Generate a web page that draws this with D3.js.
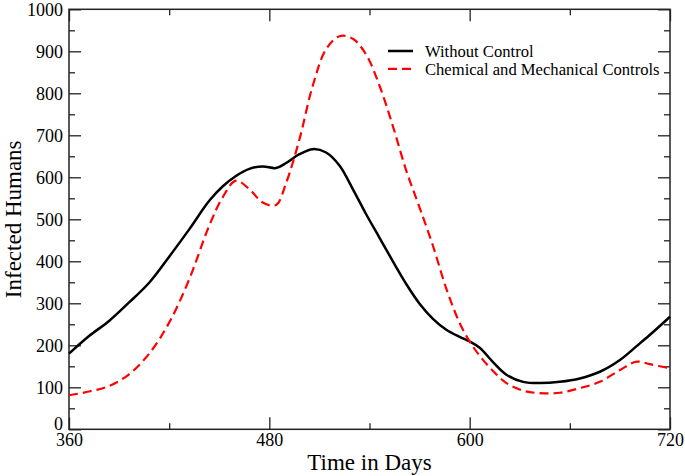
<!DOCTYPE html>
<html>
<head>
<meta charset="utf-8">
<script src="https://cdn.jsdelivr.net/npm/d3@7"></script>
<style>
  html, body { margin: 0; padding: 0; background: #fff; }
  svg { display: block; }
  text { font-family: "Liberation Serif", "Times New Roman", serif; fill: #000; }
</style>
</head>
<body>
<svg id="chart" width="685" height="476"></svg>
<script>
// ---- Data ----
const days = [360, 372, 384, 396, 408, 420, 432, 444, 452, 460, 468, 476, 484, 490, 498, 506, 514, 522, 530, 538,
              546, 554, 562, 570, 578, 586, 594, 600, 606, 614, 622, 632, 642, 654, 666, 678, 690, 700, 708, 720];
const withoutControl = [180, 222, 258, 302, 349, 411, 476, 544, 578, 603, 620, 626, 622, 634, 655, 667, 659, 628, 572, 512,
                        456, 400, 346, 299, 263, 237, 220, 209, 194, 160, 130, 113, 110, 113, 121, 137, 165, 198, 225, 268];
const chemMechControls = [81, 90, 103, 131, 180, 254, 357, 485, 552, 592, 572, 540, 534, 586, 690, 818, 905, 936, 930, 892,
                          818, 722, 616, 528, 437, 335, 253, 209, 175, 139, 110, 92, 86, 87, 98, 113, 141, 161, 155, 145];
const seriesNames = ["Without Control", "Chemical and Mechanical Controls"];
const xMajorTicks = [360, 480, 600, 720];
const xMinorTicks = [420, 540, 660];
const yMajorTicks = [0, 100, 200, 300, 400, 500, 600, 700, 800, 900, 1000];
const yMinorTicks = [50, 150, 250, 350, 450, 550, 650, 750, 850, 950];
const xTitle = "Time in Days";
const yTitle = "Infected Humans";

// ---- Layout ----
const L = 69, R = 670, T = 9.3, B = 429.3;
const svg = d3.select("#chart");
const x = d3.scaleLinear().domain([360, 720]).range([L, R]);
const y = d3.scaleLinear().domain([0, 1000]).range([B, T]);

function styleAxis(g) {
  g.select(".domain").remove();
  g.selectAll(".tick line").attr("stroke", "#222").attr("stroke-width", 1.3);
}

// bottom axis
svg.append("g").attr("transform", `translate(0,${B})`)
  .call(d3.axisBottom(x).tickValues(xMajorTicks).tickSize(-12).tickPadding(4).tickFormat(d3.format("d")))
  .call(styleAxis)
  .call(g => g.selectAll("text").attr("font-size", 18));
svg.append("g").attr("transform", `translate(0,${B})`)
  .call(d3.axisBottom(x).tickValues(xMinorTicks).tickSize(-6).tickFormat(""))
  .call(styleAxis);
// top axis
svg.append("g").attr("transform", `translate(0,${T})`)
  .call(d3.axisTop(x).tickValues(xMajorTicks).tickSize(-12).tickFormat(""))
  .call(styleAxis);
svg.append("g").attr("transform", `translate(0,${T})`)
  .call(d3.axisTop(x).tickValues(xMinorTicks).tickSize(-6).tickFormat(""))
  .call(styleAxis);
// left axis
svg.append("g").attr("transform", `translate(${L},0)`)
  .call(d3.axisLeft(y).tickValues(yMajorTicks).tickSize(-12).tickPadding(6).tickFormat(d3.format("d")))
  .call(styleAxis)
  .call(g => g.selectAll("text").attr("font-size", 18)
    .attr("dy", d => d === 0 ? "0em" : "0.32em"));
svg.append("g").attr("transform", `translate(${L},0)`)
  .call(d3.axisLeft(y).tickValues(yMinorTicks).tickSize(-6).tickFormat(""))
  .call(styleAxis);
// right axis
svg.append("g").attr("transform", `translate(${R},0)`)
  .call(d3.axisRight(y).tickValues(yMajorTicks).tickSize(-12).tickFormat(""))
  .call(styleAxis);
svg.append("g").attr("transform", `translate(${R},0)`)
  .call(d3.axisRight(y).tickValues(yMinorTicks).tickSize(-6).tickFormat(""))
  .call(styleAxis);

// frame
svg.append("rect").attr("x", L).attr("y", T).attr("width", R - L).attr("height", B - T)
  .attr("fill", "none").attr("stroke", "#222").attr("stroke-width", 1.5);

// lines
const line = d3.line().curve(d3.curveCatmullRom.alpha(0.5));
const ptsA = days.map((d, i) => [x(d), y(withoutControl[i])]);
const ptsB = days.map((d, i) => [x(d), y(chemMechControls[i])]);
svg.append("path").attr("d", line(ptsA)).attr("fill", "none")
  .attr("stroke", "#000").attr("stroke-width", 2.5);
svg.append("path").attr("d", line(ptsB)).attr("fill", "none")
  .attr("stroke", "#ff0000").attr("stroke-width", 2.2).attr("stroke-dasharray", "9,5");

// titles
svg.append("text").attr("x", (L + R) / 2).attr("y", 470).attr("text-anchor", "middle")
  .attr("font-size", 23).text(xTitle);
svg.append("text").attr("transform", `translate(21,${(T + B) / 2}) rotate(-90)`)
  .attr("text-anchor", "middle").attr("font-size", 23).text(yTitle);

// legend
const legend = svg.append("g");
const legendStyles = [{ c: "#000", w: 2.5, dash: null }, { c: "#ff0000", w: 2.2, dash: "9,5" }];
seriesNames.forEach((name, i) => {
  const ly = 51 + i * 17.8;
  const ln = legend.append("line").attr("x1", 388).attr("x2", 413).attr("y1", ly).attr("y2", ly)
    .attr("stroke", legendStyles[i].c).attr("stroke-width", legendStyles[i].w);
  if (legendStyles[i].dash) ln.attr("stroke-dasharray", legendStyles[i].dash);
  legend.append("text").attr("x", 425).attr("y", ly + 5.8).attr("font-size", 16.6).text(name);
});
</script>
</body>
</html>
